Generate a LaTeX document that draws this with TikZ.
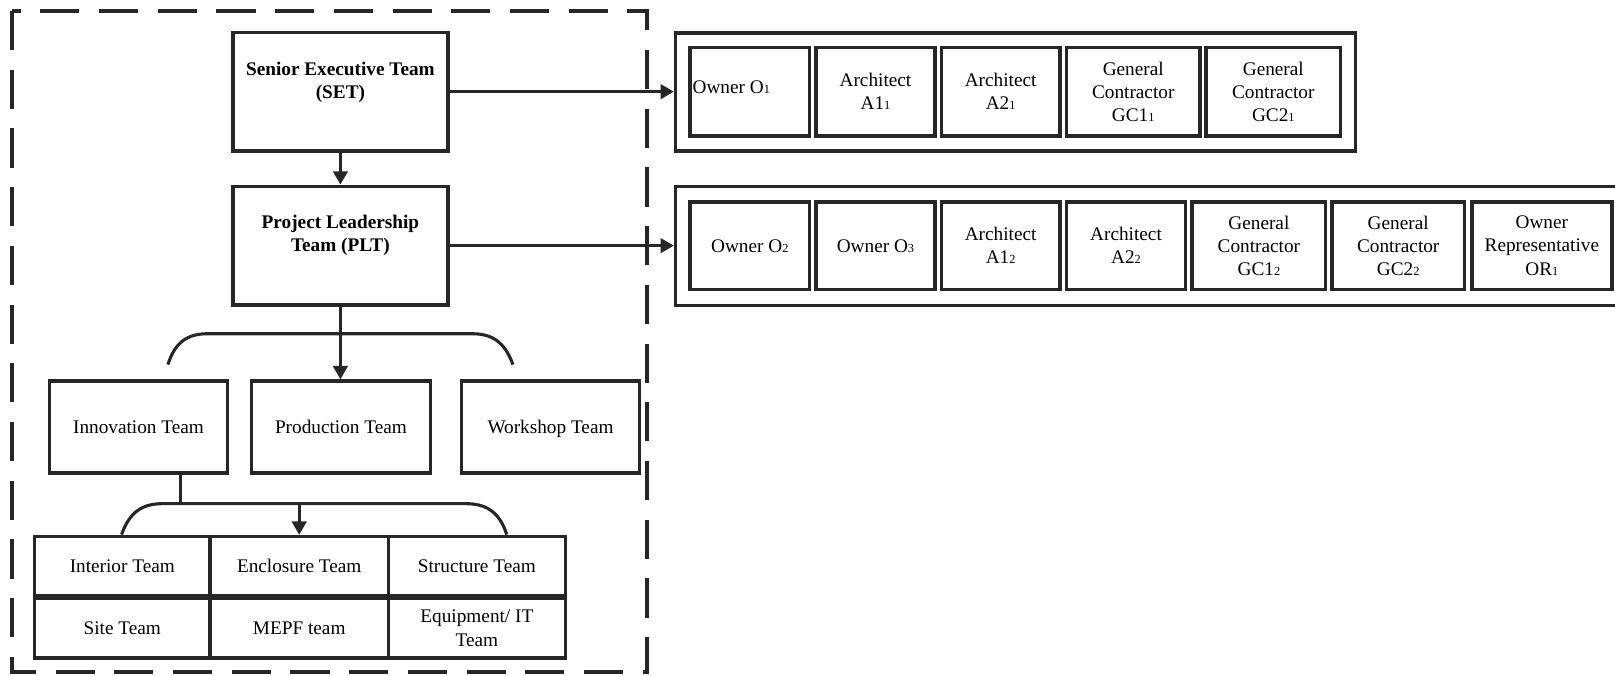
\documentclass[tikz,border=0pt]{standalone}
\usepackage{fontspec}
\setmainfont{Liberation Serif}
\usetikzlibrary{arrows.meta}
\newcommand{\sbs}[1]{{\fontsize{12}{12}\selectfont #1}}
\begin{document}
\begin{tikzpicture}[x=1pt,y=-1pt,
  line/.style={draw=black!85, line width=3pt},
  arr/.style={line, -{Triangle[length=13pt,width=14pt]}},
  box/.style={draw=black!85, line width=3.4pt, inner sep=0pt, align=center,
    font=\fontsize{18.7}{22.5}\selectfont},
  oneline/.style={text height=15pt, text depth=2pt},
  lbl/.style={inner sep=0pt, align=center, font=\fontsize{18.7}{22.5}\selectfont},
  boldlbl/.style={lbl, font=\fontsize{18.7}{22.5}\selectfont\bfseries},
  frame/.style={draw=black!85, line width=4.5pt, dash pattern=on 38pt off 19pt},
  r1/.style={box, minimum height=86pt},
  r2/.style={box, minimum height=85pt},
]
\useasboundingbox (0,0) rectangle (1568,656);
\clip (0,0) rectangle (1568,656);

% dashed frame
\draw[frame] (11.7,10.7) -- (11.7,652.4) -- (628.2,652.4) -- (628.2,10.7) -- (11.7,10.7);

% top hierarchy
\node[box, minimum width=209pt, minimum height=115pt] (set) at (330.5,89) {};
\node[boldlbl] (setlbl) at ([yshift=9pt]set.center) {Senior Executive Team\\(SET)};
\node[box, minimum width=209pt, minimum height=115pt] (plt) at (330.5,238.5) {};
\node[boldlbl] (pltlbl) at ([yshift=10pt]plt.center) {Project Leadership\\Team (PLT)};

% row 1
\node[box, minimum width=660pt, minimum height=114.5pt] (row1) at (986,89.25) {};
\node[r1, minimum width=116pt] (o1) at (728,89) {};
\node[lbl, oneline, anchor=west] (o1lbl) at ([xshift=4pt,yshift=4.5pt]o1.west) {Owner O\sbs{1}};
\node[r1, minimum width=116pt] (a11) at (850,89) {Architect\\A1\sbs{1}};
\node[r1, minimum width=115pt] (a21) at (971.5,89) {Architect\\A2\sbs{1}};
\node[r1, minimum width=129.5pt] (gc11) at (1100.25,89) {General\\Contractor\\GC1\sbs{1}};
\node[r1, minimum width=130.5pt] (gc21) at (1236.25,89) {General\\Contractor\\GC2\sbs{1}};

% row 2
\node[box, minimum width=924pt, minimum height=115.5pt] (row2) at (1118,238.75) {};
\node[r2, oneline, minimum width=116pt] (o2) at (728,238.5) {Owner O\sbs{2}};
\node[r2, oneline, minimum width=116pt] (o3) at (850,238.5) {Owner O\sbs{3}};
\node[r2, minimum width=115pt] (a12) at (971.5,238.5) {Architect\\A1\sbs{2}};
\node[r2, minimum width=115.5pt] (a22) at (1093.25,238.5) {Architect\\A2\sbs{2}};
\node[r2, minimum width=129.5pt] (gc12) at (1222.25,238.5) {General\\Contractor\\GC1\sbs{2}};
\node[r2, minimum width=129pt] (gc22) at (1357.5,238.5) {General\\Contractor\\GC2\sbs{2}};
\node[r2, minimum width=136pt] (or1) at (1497,238.5) {Owner\\Representative\\OR\sbs{1}};

% teams
\node[box, oneline, minimum width=173pt, minimum height=89pt] (innov) at (134.5,414.5) {Innovation Team};
\node[box, oneline, minimum width=174pt, minimum height=89pt] (prod) at (331,414.5) {Production Team};
\node[box, oneline, minimum width=173pt, minimum height=89pt] (work) at (534.5,414.5) {Workshop Team};

% sub-teams grid
\node[box, oneline, minimum width=170.5pt, minimum height=57pt] (int) at (118.75,549.5) {Interior Team};
\node[box, oneline, minimum width=173pt, minimum height=57pt] (enc) at (290.5,549.5) {Enclosure Team};
\node[box, oneline, minimum width=172pt, minimum height=57pt] (str) at (463,549.5) {Structure Team};
\node[box, oneline, minimum width=170.5pt, minimum height=58pt] (site) at (118.75,610) {Site Team};
\node[box, oneline, minimum width=173pt, minimum height=58pt] (mepf) at (290.5,610) {MEPF team};
\node[box, minimum width=172pt, minimum height=58pt] (equip) at (463,610) {Equipment/ IT\\Team};

% connectors
\draw[arr] (set) -- (plt);
\draw[arr] (set.east) -- (set.east -| row1.west);
\draw[arr] (plt.east) -- (plt.east -| row2.west);
\draw[arr] (plt.south) -- (plt.south |- prod.north);

% brackets
\draw[line] (163,354) .. controls (170,332) and (182,324) .. (202,324) -- (458,324) .. controls (478,324) and (490,332) .. (498,354);
\coordinate (j2) at (175,489);
\draw[line] ([xshift=40.5pt]innov.south) -- (j2);
\draw[line] (118,519) .. controls (126,497) and (138,489) .. (158,489) -- (452,489) .. controls (472,489) and (485,497) .. (492,519);
\draw[arr] (enc.north |- j2) -- (enc.north);
\end{tikzpicture}
\end{document}
